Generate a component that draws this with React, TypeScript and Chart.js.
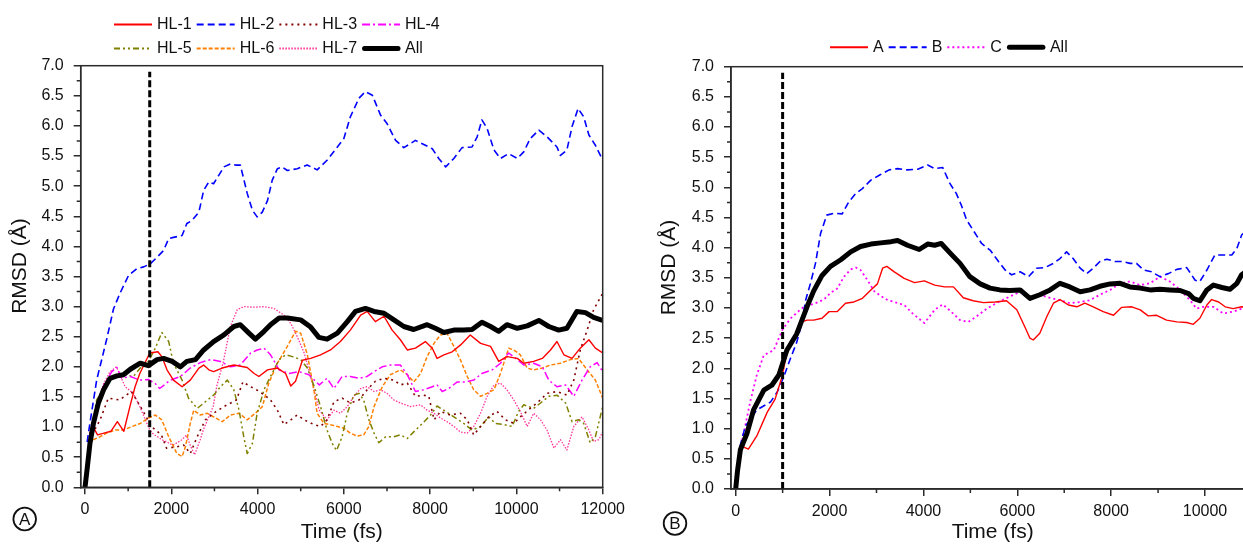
import React, { useEffect, useRef } from 'react';
import { Chart, registerables } from 'chart.js';

Chart.register(...registerables);

type P = [number, number][];

// ---------- shared axis values ----------
const Y_TICKS = [0, 0.5, 1, 1.5, 2, 2.5, 3, 3.5, 4, 4.5, 5, 5.5, 6, 6.5, 7];
const Y_MINOR = [0.25, 0.75, 1.25, 1.75, 2.25, 2.75, 3.25, 3.75, 4.25, 4.75, 5.25, 5.75, 6.25, 6.75];
const A_X_TICKS = [0, 2000, 4000, 6000, 8000, 10000, 12000];
const A_X_MINOR = [1000, 3000, 5000, 7000, 9000, 11000];
const B_X_TICKS = [0, 2000, 4000, 6000, 8000, 10000];
const B_X_MINOR = [1000, 3000, 5000, 7000, 9000, 11000];
const A_MARKER = 1500;
const B_MARKER = 1000;
const MARKER_TOP = 6.9;

// ---------- panel A (HL-1 .. HL-7, All) ----------
const HL1: P = [[100,0.90],[230,0.95],[290,0.87],[440,0.90],[600,0.93],[750,1.09],[900,0.93],[1040,1.34],[1160,1.67],[1270,1.89],[1500,2.23],[1690,2.25],[1780,2.17],[1900,1.95],[2050,1.78],[2250,1.67],[2440,1.78],[2640,1.98],[2750,2.03],[2870,1.95],[2980,1.92],[3180,1.98],[3450,2.03],[3760,1.99],[3920,1.89],[4030,1.84],[4230,1.95],[4460,1.98],[4650,1.89],[4770,1.68],[4880,1.76],[5040,2.11],[5230,2.14],[5460,2.20],[5690,2.28],[5920,2.42],[6150,2.61],[6390,2.86],[6540,2.92],[6730,2.75],[6930,2.84],[7120,2.61],[7310,2.45],[7470,2.28],[7660,2.31],[7890,2.42],[8050,2.31],[8160,2.14],[8320,2.20],[8510,2.25],[8700,2.36],[8930,2.53],[9170,2.39],[9400,2.34],[9590,2.09],[9780,2.17],[10020,2.14],[10170,2.06],[10400,2.09],[10600,2.14],[10790,2.28],[10940,2.42],[11100,2.20],[11290,2.14],[11480,2.31],[11680,2.45],[11830,2.31],[12000,2.23]];
const HL2: P = [[50,0.75],[100,1.0],[270,1.78],[500,2.45],[660,2.96],[810,3.22],[1010,3.52],[1200,3.63],[1360,3.66],[1510,3.71],[1670,3.82],[1820,3.93],[1940,4.13],[2050,4.15],[2250,4.18],[2360,4.38],[2480,4.43],[2640,4.57],[2750,4.93],[2870,5.07],[2980,5.04],[3100,5.18],[3220,5.32],[3370,5.37],[3490,5.35],[3600,5.35],[3760,4.88],[3880,4.6],[3990,4.49],[4110,4.57],[4230,4.76],[4340,5.1],[4460,5.29],[4570,5.32],[4690,5.26],[4920,5.29],[5150,5.35],[5300,5.3],[5380,5.27],[5610,5.43],[5850,5.65],[6000,5.79],[6150,6.15],[6350,6.46],[6500,6.57],[6660,6.51],[6850,6.18],[7000,6.04],[7200,5.76],[7390,5.64],[7660,5.76],[7890,5.68],[8050,5.62],[8200,5.46],[8360,5.32],[8550,5.46],[8740,5.64],[8970,5.65],[9090,5.82],[9200,6.1],[9320,5.96],[9480,5.6],[9630,5.46],[9820,5.54],[10020,5.46],[10170,5.57],[10320,5.79],[10520,5.93],[10710,5.82],[10940,5.65],[11020,5.51],[11170,5.6],[11290,5.99],[11430,6.29],[11560,6.15],[11680,5.85],[11830,5.68],[12000,5.43]];
const HL3: P = [[100,0.79],[350,1.12],[540,1.48],[800,1.45],[1075,1.59],[1310,1.31],[1540,1.01],[1770,0.87],[1890,0.65],[2120,0.67],[2290,0.70],[2440,0.56],[2600,0.84],[2790,1.12],[2980,1.23],[3220,1.34],[3510,1.45],[3660,1.75],[3840,1.67],[4050,1.59],[4300,1.45],[4460,1.28],[4610,1.04],[4770,1.12],[4920,1.20],[5080,1.12],[5310,1.04],[5460,1.01],[5610,1.12],[5770,1.42],[5960,1.48],[6150,1.40],[6350,1.45],[6540,1.62],[6730,1.76],[6930,1.81],[7160,1.78],[7310,1.70],[7470,1.73],[7660,1.51],[7850,1.53],[7970,1.51],[8090,1.12],[8240,1.26],[8470,1.20],[8700,1.23],[8860,1.12],[9010,0.87],[9170,1.01],[9360,1.17],[9550,1.26],[9750,1.12],[9940,1.06],[10090,1.17],[10320,1.31],[10480,1.40],[10710,1.56],[10940,1.59],[11170,1.53],[11330,1.78],[11480,2.28],[11640,2.61],[11790,2.95],[12000,3.22]];
const HL4: P = [[100,0.84],[270,1.34],[420,1.67],[620,1.92],[740,1.99],[850,1.81],[1050,1.84],[1270,1.78],[1470,1.79],[1630,1.72],[1730,1.64],[1980,1.78],[2210,1.84],[2440,1.98],[2670,2.07],[2910,2.12],[3140,2.09],[3370,2.0],[3600,2.03],[3840,2.23],[3990,2.28],[4150,2.31],[4300,2.2],[4500,1.95],[4730,1.89],[4960,1.92],[5190,1.87],[5430,1.70],[5610,1.81],[5770,1.64],[5960,1.84],[6150,1.84],[6350,1.81],[6540,1.84],[6700,1.92],[6890,2.0],[7080,2.03],[7310,2.03],[7470,1.87],[7660,1.59],[7850,1.62],[8050,1.67],[8160,1.70],[8280,1.59],[8430,1.64],[8630,1.75],[8820,1.75],[9010,1.78],[9200,1.89],[9440,1.95],[9630,2.06],[9820,2.23],[10020,2.12],[10170,2.03],[10400,2.06],[10600,2.0],[10750,1.78],[10940,1.67],[11140,1.70],[11330,1.51],[11520,1.78],[11710,2.0],[11870,2.07],[12000,1.92]];
const HL5: P = [[100,0.8],[270,1.45],[470,1.67],[660,1.84],[890,1.87],[1120,1.84],[1280,1.98],[1470,2.09],[1630,2.31],[1780,2.57],[1940,2.42],[2050,2.06],[2250,1.78],[2400,1.48],[2600,1.31],[2790,1.42],[2980,1.53],[3140,1.67],[3300,1.78],[3450,1.62],[3570,1.28],[3680,0.84],[3760,0.56],[3880,0.73],[3990,1.23],[4150,1.62],[4300,1.84],[4500,2.12],[4650,2.20],[4810,2.17],[5000,2.12],[5155,1.98],[5310,1.68],[5460,1.34],[5610,0.95],[5730,0.73],[5830,0.61],[5960,0.84],[6080,1.23],[6230,1.53],[6350,1.56],[6460,1.45],[6580,1.12],[6700,0.90],[6810,0.74],[6970,0.84],[7160,0.84],[7310,0.87],[7470,0.81],[7620,0.92],[7820,1.06],[8010,1.20],[8160,1.35],[8360,1.26],[8550,1.17],[8780,1.06],[8970,0.95],[9170,1.01],[9360,1.17],[9510,1.06],[9710,1.04],[9900,1.01],[10050,1.26],[10170,1.37],[10400,1.31],[10560,1.40],[10750,1.51],[10940,1.53],[11140,1.40],[11290,1.09],[11440,1.12],[11560,1.06],[11710,0.74],[11830,0.84],[12000,1.34]];
const HL6: P = [[80,0.73],[190,0.79],[350,0.84],[500,0.90],[700,0.95],[890,0.95],[1090,1.01],[1280,1.06],[1470,1.15],[1630,1.20],[1780,1.12],[1940,0.84],[2050,0.68],[2130,0.56],[2250,0.51],[2330,0.68],[2440,1.06],[2520,1.28],[2670,1.20],[2830,1.23],[2980,1.17],[3180,1.09],[3370,1.20],[3570,1.23],[3760,1.12],[3950,1.23],[4110,1.34],[4260,1.73],[4460,2.06],[4690,2.34],[4880,2.59],[5000,2.56],[5155,2.2],[5310,1.6],[5380,1.23],[5540,1.06],[5690,1.04],[5850,1.01],[6000,0.98],[6150,0.90],[6310,0.85],[6460,0.87],[6580,1.01],[6700,1.34],[6890,1.67],[7080,1.87],[7310,1.95],[7470,1.87],[7620,1.75],[7780,1.89],[7930,2.17],[8090,2.39],[8240,2.53],[8390,2.56],[8550,2.34],[8700,2.12],[8860,1.84],[9010,1.62],[9170,1.51],[9320,1.56],[9480,1.62],[9630,1.89],[9820,2.31],[9940,2.28],[10090,2.20],[10250,1.98],[10400,1.95],[10600,1.98],[10790,2.03],[11020,2.06],[11250,2.12],[11440,2.14],[11640,1.95],[11830,1.78],[12000,1.48]];
const HL7: P = [[100,0.79],[270,1.34],[430,1.72],[580,1.92],[730,2.0],[930,1.67],[1120,1.56],[1270,1.34],[1500,0.95],[1590,0.88],[1810,0.78],[2040,0.70],[2250,0.79],[2350,0.87],[2450,0.68],[2540,0.54],[2670,0.79],[2740,0.95],[2970,1.34],[3060,1.7],[3200,2.06],[3370,2.67],[3530,2.95],[3680,3.0],[3920,2.99],[4150,3.0],[4380,2.97],[4610,2.86],[4770,2.72],[4920,2.50],[5080,2.23],[5270,1.73],[5430,1.28],[5610,1.12],[5770,1.28],[5920,1.23],[6080,1.34],[6230,1.51],[6390,1.64],[6540,1.67],[6700,1.59],[6850,1.62],[7000,1.56],[7160,1.45],[7310,1.40],[7540,1.34],[7780,1.37],[7930,1.28],[8090,1.23],[8240,1.15],[8390,1.09],[8550,1.01],[8700,0.92],[8860,0.90],[9010,1.01],[9170,1.23],[9320,1.51],[9480,1.70],[9630,1.73],[9780,1.62],[9940,1.45],[10090,1.26],[10250,1.01],[10400,1.23],[10560,1.12],[10710,0.95],[10870,0.65],[11020,0.79],[11170,0.62],[11330,1.01],[11520,1.17],[11680,0.95],[11790,0.76],[11910,0.79],[12000,0.92]];
const ALL_A: P = [[0,0],[55,0.34],[115,0.73],[195,1.06],[310,1.40],[430,1.62],[580,1.81],[740,1.85],[890,1.87],[1050,1.96],[1280,2.06],[1470,2.02],[1670,2.12],[1820,2.14],[2020,2.09],[2210,2.0],[2360,2.09],[2560,2.12],[2750,2.28],[2980,2.42],[3220,2.53],[3450,2.67],[3600,2.70],[3800,2.56],[3950,2.46],[4150,2.59],[4300,2.70],[4500,2.81],[4690,2.81],[5000,2.78],[5230,2.66],[5420,2.49],[5610,2.46],[5850,2.56],[6080,2.75],[6270,2.92],[6500,2.97],[6700,2.92],[6930,2.89],[7160,2.78],[7390,2.67],[7620,2.62],[7930,2.70],[8120,2.64],[8320,2.57],[8550,2.61],[8780,2.61],[8970,2.62],[9200,2.74],[9400,2.67],[9590,2.59],[9780,2.70],[10020,2.64],[10250,2.68],[10520,2.77],[10750,2.67],[10980,2.61],[11170,2.64],[11400,2.92],[11600,2.90],[11790,2.82],[12000,2.77]];

// ---------- panel B (A, B, C, All) ----------
const SA: P = [[160,0.70],[270,0.66],[450,0.88],[670,1.27],[840,1.49],[990,1.87],[1090,2.26],[1240,2.50],[1410,2.77],[1520,2.80],[1660,2.80],[1840,2.83],[1990,2.94],[2160,2.94],[2340,3.08],[2520,3.10],[2700,3.16],[2880,3.30],[3020,3.40],[3130,3.66],[3220,3.69],[3380,3.60],[3590,3.49],[3810,3.42],[4020,3.45],[4240,3.38],[4450,3.35],[4640,3.35],[4850,3.17],[5060,3.12],[5280,3.09],[5530,3.10],[5770,3.12],[5990,2.97],[6160,2.69],[6270,2.50],[6340,2.47],[6480,2.58],[6630,2.86],[6770,3.08],[6910,3.14],[7090,3.05],[7270,3.02],[7440,3.08],[7620,3.02],[7830,2.94],[8050,2.88],[8220,3.01],[8440,3.02],[8620,2.97],[8790,2.87],[8970,2.88],[9180,2.80],[9400,2.77],[9610,2.76],[9750,2.73],[9890,2.83],[10040,3.05],[10140,3.14],[10290,3.10],[10430,3.02],[10600,2.99],[10780,3.02],[11050,3.0]];
const SB: P = [[90,0.70],[205,1.04],[450,1.31],[740,1.44],[880,1.60],[1020,1.85],[1160,2.15],[1300,2.43],[1410,2.75],[1490,3.13],[1590,3.40],[1700,3.74],[1810,4.24],[1940,4.54],[2090,4.57],[2270,4.56],[2410,4.76],[2560,4.90],[2700,4.98],[2880,5.12],[3060,5.20],[3270,5.29],[3450,5.31],[3660,5.29],[3880,5.30],[4090,5.37],[4240,5.31],[4410,5.33],[4560,5.07],[4700,4.90],[4810,4.70],[4920,4.46],[5060,4.29],[5240,4.07],[5420,3.96],[5600,3.77],[5740,3.63],[5880,3.55],[6060,3.60],[6240,3.52],[6410,3.66],[6590,3.67],[6770,3.74],[6910,3.82],[7050,3.93],[7190,3.82],[7340,3.66],[7480,3.57],[7620,3.66],[7760,3.77],[7910,3.81],[8080,3.77],[8260,3.77],[8400,3.74],[8540,3.74],[8690,3.63],[8860,3.60],[9040,3.52],[9220,3.57],[9400,3.64],[9610,3.67],[9790,3.46],[9890,3.44],[10040,3.63],[10210,3.88],[10390,3.88],[10570,3.88],[10680,3.99],[10780,4.21],[11050,4.4]];
const SC: P = [[90,0.65],[200,1.03],[310,1.45],[450,1.89],[600,2.22],[810,2.30],[990,2.63],[1160,2.82],[1300,2.92],[1450,3.02],[1700,3.08],[1880,3.14],[2020,3.25],[2160,3.32],[2310,3.52],[2450,3.64],[2560,3.67],[2660,3.63],[2810,3.46],[2950,3.28],[3090,3.20],[3240,3.13],[3380,3.10],[3590,3.05],[3770,2.91],[4020,2.75],[4240,2.97],[4410,3.06],[4590,2.94],[4780,2.80],[4960,2.77],[5130,2.86],[5350,2.99],[5600,3.10],[5840,3.19],[6060,3.27],[6270,3.19],[6480,3.22],[6730,3.16],[6910,3.13],[7120,3.08],[7340,3.10],[7550,3.13],[7760,3.22],[7980,3.30],[8190,3.41],[8400,3.44],[8620,3.38],[8830,3.41],[9040,3.52],[9250,3.44],[9470,3.30],[9680,3.13],[9820,2.99],[9970,3.02],[10180,3.02],[10390,2.91],[10600,2.94],[10780,2.99],[11050,3.0]];
const ALL_B: P = [[0,0],[40,0.31],[100,0.65],[240,0.92],[380,1.31],[600,1.64],[770,1.72],[920,1.89],[1090,2.30],[1300,2.57],[1520,3.02],[1660,3.28],[1840,3.54],[2020,3.69],[2240,3.80],[2450,3.93],[2660,4.02],[2880,4.06],[3090,4.08],[3310,4.10],[3450,4.12],[3660,4.04],[3910,3.97],[4090,4.06],[4240,4.04],[4380,4.07],[4570,3.91],[4780,3.74],[4990,3.52],[5210,3.40],[5420,3.33],[5630,3.30],[5840,3.29],[6060,3.30],[6270,3.16],[6480,3.22],[6700,3.30],[6910,3.41],[7120,3.35],[7340,3.27],[7550,3.30],[7760,3.36],[7980,3.40],[8190,3.41],[8400,3.35],[8620,3.33],[8830,3.30],[9040,3.31],[9250,3.30],[9470,3.29],[9650,3.24],[9750,3.16],[9890,3.12],[10040,3.30],[10180,3.38],[10360,3.34],[10530,3.31],[10680,3.41],[10780,3.55],[11050,3.7]];

// ---------- styles ----------
const FONT = "'Liberation Sans', Arial, sans-serif";
const TEXT = '#111111';
const AXIS = '#2b2b2b';

interface SeriesDef { label: string; data: P; color: string; width: number; dash: number[]; }
interface PanelDef {
  series: SeriesDef[];
  xTicks: number[];
  xMinor: number[];
  xMax: number;
  marker: number;
  letter: string;
  layout: { top: number; yAxisW: number; xAxisH: number; padRight: number };
  yTitle: { x: number; y: number };
  legendRows: { x: number; y: number; labels: string[] }[];
  badge: { x: number; y: number };
}

const PANEL_A: PanelDef = {
  series: [
    { label: 'HL-1', data: HL1, color: '#ff0000', width: 1.4, dash: [] },
    { label: 'HL-2', data: HL2, color: '#0000ff', width: 1.6, dash: [7, 4] },
    { label: 'HL-3', data: HL3, color: '#800000', width: 1.6, dash: [2, 4] },
    { label: 'HL-4', data: HL4, color: '#ff00ff', width: 1.5, dash: [8, 3, 2, 3] },
    { label: 'HL-5', data: HL5, color: '#808000', width: 1.5, dash: [6, 3, 2, 3, 2, 3] },
    { label: 'HL-6', data: HL6, color: '#ff8000', width: 1.5, dash: [4, 2] },
    { label: 'HL-7', data: HL7, color: '#ff3399', width: 1.3, dash: [1.5, 1.5] },
    { label: 'All', data: ALL_A, color: '#000000', width: 5, dash: [] },
  ],
  xTicks: A_X_TICKS,
  xMinor: A_X_MINOR,
  xMax: 12000,
  marker: A_MARKER,
  letter: 'A',
  layout: { top: 65.7, yAxisW: 80.7, xAxisH: 57.7, padRight: 37.3 },
  yTitle: { x: 20.5, y: 266 },
  legendRows: [
    { x: 114, y: 24.5, labels: ['HL-1', 'HL-2', 'HL-3', 'HL-4'] },
    { x: 114, y: 48.5, labels: ['HL-5', 'HL-6', 'HL-7', 'All'] },
  ],
  badge: { x: 24.7, y: 519 },
};

const PANEL_B: PanelDef = {
  series: [
    { label: 'A', data: SA, color: '#ff0000', width: 1.4, dash: [] },
    { label: 'B', data: SB, color: '#0000ff', width: 1.6, dash: [7, 4] },
    { label: 'C', data: SC, color: '#ff00ff', width: 1.8, dash: [2, 3] },
    { label: 'All', data: ALL_B, color: '#000000', width: 5, dash: [] },
  ],
  xTicks: B_X_TICKS,
  xMinor: B_X_MINOR,
  xMax: 11050,
  marker: B_MARKER,
  letter: 'B',
  layout: { top: 66.7, yAxisW: 91, xAxisH: 56, padRight: 25.7 },
  yTitle: { x: 29.5, y: 267.5 },
  legendRows: [{ x: 190, y: 47.3, labels: ['A', 'B', 'C', 'All'] }],
  badge: { x: 35, y: 523.5 },
};

function decorPlugin(panel: PanelDef) {
  return {
    id: 'decor' + panel.letter,
    afterDraw(chart: any) {
      const { ctx, chartArea: ca, scales } = chart;
      const xs = scales.x;
      const ys = scales.y;
      ctx.save();
      ctx.setLineDash([]);
      ctx.strokeStyle = AXIS;
      ctx.lineWidth = 1.5;
      ctx.strokeRect(ca.left, ca.top, ca.right - ca.left, ca.bottom - ca.top);
      ctx.beginPath();
      for (const v of panel.xMinor) {
        if (v > panel.xMax) continue;
        const px = xs.getPixelForValue(v);
        ctx.moveTo(px, ca.bottom);
        ctx.lineTo(px, ca.bottom + 4);
      }
      for (const v of Y_MINOR) {
        const py = ys.getPixelForValue(v);
        ctx.moveTo(ca.left, py);
        ctx.lineTo(ca.left - 4, py);
      }
      ctx.stroke();

      // y title
      ctx.save();
      ctx.translate(panel.yTitle.x, panel.yTitle.y);
      ctx.rotate(-Math.PI / 2);
      ctx.font = `21px ${FONT}`;
      ctx.fillStyle = TEXT;
      ctx.textAlign = 'center';
      ctx.textBaseline = 'middle';
      ctx.fillText('RMSD (Å)', 0, 0);
      ctx.restore();

      // legend
      ctx.font = `16px ${FONT}`;
      ctx.textAlign = 'left';
      ctx.textBaseline = 'middle';
      for (const row of panel.legendRows) {
        let cx = row.x;
        for (const lab of row.labels) {
          const s = panel.series.find((q) => q.label === lab)!;
          ctx.save();
          ctx.strokeStyle = s.color;
          ctx.setLineDash(s.dash);
          ctx.beginPath();
          if (s.width > 3) {
            ctx.lineWidth = 5;
            ctx.lineCap = 'round';
            ctx.moveTo(cx + 2.5, row.y);
            ctx.lineTo(cx + 36, row.y);
          } else {
            ctx.lineWidth = 2;
            ctx.lineCap = 'butt';
            ctx.moveTo(cx, row.y);
            ctx.lineTo(cx + 38, row.y);
          }
          ctx.stroke();
          ctx.restore();
          ctx.fillStyle = TEXT;
          ctx.fillText(lab, cx + 43, row.y);
          cx = cx + 43 + ctx.measureText(lab).width + 5;
        }
      }

      // panel badge
      ctx.beginPath();
      ctx.setLineDash([]);
      ctx.lineWidth = 1.8;
      ctx.strokeStyle = TEXT;
      ctx.arc(panel.badge.x, panel.badge.y, 11.3, 0, Math.PI * 2);
      ctx.stroke();
      ctx.font = `17px ${FONT}`;
      ctx.textAlign = 'center';
      ctx.textBaseline = 'middle';
      ctx.fillStyle = TEXT;
      ctx.fillText(panel.letter, panel.badge.x, panel.badge.y + 1);
      ctx.restore();
    },
  };
}

function buildConfig(panel: PanelDef): any {
  const datasets: any[] = [
    {
      label: 'marker',
      data: [{ x: panel.marker, y: 0 }, { x: panel.marker, y: MARKER_TOP }],
      borderColor: '#000000',
      borderWidth: 3,
      borderDash: [7, 3],
      pointRadius: 0,
      order: 0,
    },
  ];
  panel.series.forEach((s, i) => {
    datasets.push({
      label: s.label,
      data: s.data.map(([x, y]) => ({ x, y })),
      borderColor: s.color,
      backgroundColor: s.color,
      borderWidth: s.width,
      borderDash: s.dash,
      borderJoinStyle: 'round',
      borderCapStyle: s.width > 3 ? 'round' : 'butt',
      pointRadius: 0,
      tension: 0,
      fill: false,
      order: s.label === 'All' ? 1 : 2 + i,
    });
  });
  const axisCommon = {
    grid: { display: true, drawOnChartArea: false, drawTicks: true, tickLength: 7, color: AXIS, lineWidth: 1.5 },
    border: { display: true, color: AXIS, width: 1.5 },
  };
  return {
    type: 'line',
    data: { datasets },
    options: {
      animation: false,
      responsive: false,
      maintainAspectRatio: false,
      layout: { padding: { left: 0, top: panel.layout.top, right: panel.layout.padRight, bottom: 0 } },
      plugins: { legend: { display: false }, tooltip: { enabled: false }, title: { display: false } },
      scales: {
        x: {
          type: 'linear',
          min: -100,
          max: panel.xMax,
          afterBuildTicks: (sc: any) => { sc.ticks = panel.xTicks.map((v) => ({ value: v })); },
          afterFit: (sc: any) => { sc.height = panel.layout.xAxisH; },
          ticks: { autoSkip: false, maxRotation: 0, padding: 5.5, color: TEXT, font: { family: FONT, size: 16 }, callback: (v: any) => String(v) },
          title: { display: true, text: 'Time (fs)', color: TEXT, font: { family: FONT, size: 21 }, padding: { top: 0, bottom: 0 } },
          ...axisCommon,
        },
        y: {
          type: 'linear',
          min: 0,
          max: 7,
          afterBuildTicks: (sc: any) => { sc.ticks = Y_TICKS.map((v) => ({ value: v })); },
          afterFit: (sc: any) => { sc.width = panel.layout.yAxisW; },
          ticks: { autoSkip: false, padding: 10, color: TEXT, font: { family: FONT, size: 16 }, callback: (v: any) => Number(v).toFixed(1) },
          title: { display: false },
          ...axisCommon,
        },
      },
    },
    plugins: [decorPlugin(panel)],
  };
}

export default function App() {
  const leftRef = useRef<HTMLCanvasElement>(null);
  const rightRef = useRef<HTMLCanvasElement>(null);
  useEffect(() => {
    const c1 = new Chart(leftRef.current!, buildConfig(PANEL_A));
    const c2 = new Chart(rightRef.current!, buildConfig(PANEL_B));
    return () => { c1.destroy(); c2.destroy(); };
  }, []);
  return (
    <div style={{ position: 'absolute', left: 0, top: 0, width: 1243, height: 545, overflow: 'hidden', background: '#ffffff' }}>
      <canvas ref={leftRef} width={640} height={545} style={{ position: 'absolute', left: 0, top: 0, width: 640, height: 545 }} />
      <canvas ref={rightRef} width={640} height={545} style={{ position: 'absolute', left: 640, top: 0, width: 640, height: 545 }} />
    </div>
  );
}
